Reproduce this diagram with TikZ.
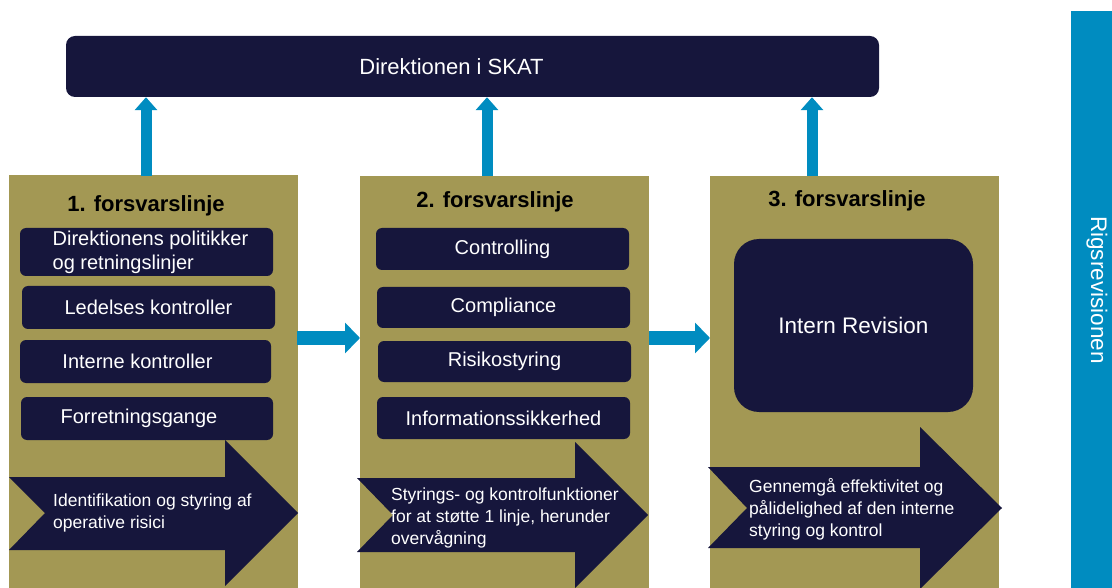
\documentclass[tikz,border=0pt]{standalone}
\usepackage{fontspec}
\setmainfont{Liberation Sans}
\usetikzlibrary{arrows.meta}
\definecolor{navy}{RGB}{22,22,60}
\definecolor{linegold}{RGB}{163,152,84}
\definecolor{skyblue}{RGB}{0,140,192}
\tikzset{
  linebox/.style={fill=linegold, inner sep=0pt, anchor=north west, minimum width=289pt, minimum height=413pt},
  linetitle/.style={font=\bfseries\fontsize{22}{26}\selectfont},
  task/.style={fill=navy, text=white, rounded corners=6pt, inner sep=0pt, minimum width=253pt, minimum height=42pt, font=\fontsize{20}{24}\selectfont},
  flowtext/.style={text=white, anchor=west, align=left, inner sep=0pt, font=\fontsize{17.5}{22}\selectfont},
  uparrow/.style={draw=skyblue, line width=11pt, -{Triangle[width=22pt, length=13pt]}},
  sidearrow/.style={draw=skyblue, line width=13pt, -{Triangle[width=30pt, length=15pt]}}
}
\begin{document}
\begin{tikzpicture}[x=1pt, y=-1pt]
  \useasboundingbox (0,0) rectangle (1112,588);
  % top and right
  \node[fill=navy, text=white, rounded corners=9pt, minimum width=813pt, minimum height=61pt, font=\fontsize{22}{26}\selectfont] (top) at (472.5,66.5) {\hspace*{-42pt}Direktionen i SKAT};
  \node[fill=skyblue, inner sep=0pt, anchor=north west, minimum width=41pt, minimum height=577pt] (rigs) at (1071,11) {};
  \node[text=white, rotate=-90, font=\fontsize{22.5}{26}\selectfont] (rigslabel) at (1097,290) {Rigsrevisionen};

  % the three lines
  \node[linebox] (col1) at (9,175) {};
  \node[linebox] (col2) at (360,176) {};
  \node[linebox] (col3) at (710,176) {};

  \node[linetitle] (t1) at (146,206) {1. forsvarslinje};
  \node[linetitle] (t2) at (495,202) {2. forsvarslinje};
  \node[linetitle] (t3) at (847,201) {3. forsvarslinje};

  \node[task, minimum height=48pt, align=left] (a1) at (146.5,252) {\hspace*{8pt}Direktionens politikker\\\hspace*{8pt}og retningslinjer};
  \node[task, minimum height=43pt] (a2) at (148.5,307.5) {Ledelses kontroller};
  \node[task, minimum width=251pt, minimum height=43pt] (a3) at (145.5,361.5) {\hspace*{-16pt}Interne kontroller};
  \node[task, minimum width=252pt, minimum height=43pt] (a4) at (147,418.5) {\hspace*{-16pt}Forretningsgange};

  \node[task] (b1) at (502.5,249) {Controlling};
  \node[task, minimum height=41pt] (b2) at (503.5,307.5) {Compliance};
  \node[task, minimum height=41pt] (b3) at (504.5,361.5) {Risikostyring};
  \node[task] (b4) at (503.5,418) {Informationssikkerhed};

  \node[task, minimum width=239pt, minimum height=173pt, rounded corners=25pt, font=\fontsize{22.5}{26}\selectfont] (c1) at (853.5,325.5) {Intern Revision};

  % big flow arrows
  \fill[navy] (9,477) -- (225,477) -- (225,440) -- (298,513) -- (225,586) -- (225,550) -- (9,550) -- (45,513) -- cycle;
  \fill[navy] (357,478) -- (575,478) -- (575,442) -- (648,515) -- (575,588) -- (575,552) -- (357,552) -- (393,515) -- cycle;
  \fill[navy] (708,467) -- (920,467) -- (920,427) -- (1002,508) -- (920,589) -- (920,548) -- (708,548) -- (747,508) -- cycle;
  \node[flowtext] (f1) at (53,513) {Identifikation og styring af\\operative risici};
  \node[flowtext] (f2) at (391,518) {Styrings- og kontrolfunktioner\\for at støtte 1 linje, herunder\\overvågning};
  \node[flowtext] (f3) at (749,509) {Gennemgå effektivitet og\\pålidelighed af den interne\\styring og kontrol};

  % blue arrows
  \coordinate (u1) at (146,176);
  \coordinate (u2) at (487,176);
  \coordinate (u3) at (812,176);
  \draw[uparrow] (u1) -- (u1 |- top.south);
  \draw[uparrow] (u2) -- (u2 |- top.south);
  \draw[uparrow] (u3) -- (u3 |- top.south);
  \coordinate (r1) at (297,338);
  \coordinate (r2) at (649,338);
  \draw[sidearrow] (r1) -- (r1 -| col2.west);
  \draw[sidearrow] (r2) -- (r2 -| col3.west);
\end{tikzpicture}
\end{document}
